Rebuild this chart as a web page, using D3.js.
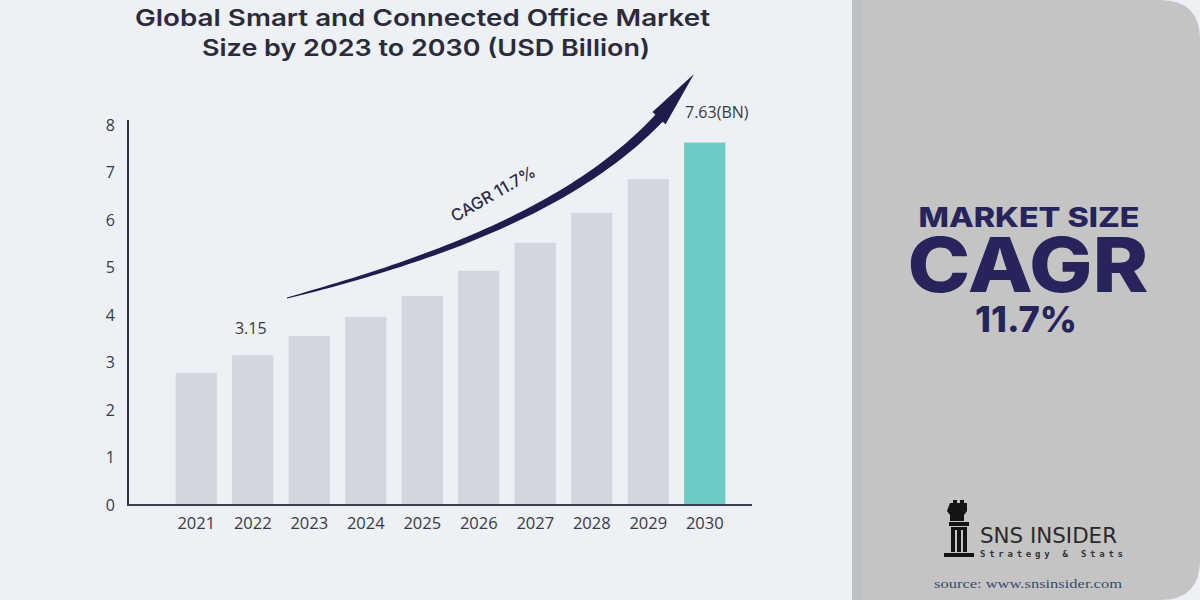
<!DOCTYPE html>
<html><head><meta charset="utf-8">
<script src="https://cdn.jsdelivr.net/npm/d3@7"></script>
<style>
html,body{margin:0;padding:0;background:#edf0f4;}
svg{display:block;}
</style></head>
<body>
<svg id="c" width="1200" height="600"></svg>
<script>
const years = ["2021","2022","2023","2024","2025","2026","2027","2028","2029","2030"];
const values = [2.78, 3.15, 3.56, 3.96, 4.40, 4.93, 5.52, 6.15, 6.86, 7.63];
const yTicks = [0,1,2,3,4,5,6,7,8];
const titleLines = ["Global Smart and Connected Office Market", "Size by 2023 to 2030 (USD Billion)"];
const cagrLabel = "CAGR 11.7%";
const sideLines = ["MARKET SIZE", "CAGR", "11.7%"];

const svg = d3.select("#c");
const W = 1200, H = 600;
const navy = "#26245a";

// background
svg.append("rect").attr("width",W).attr("height",H).attr("fill","#edf0f4");
// right panel
const px = 852, pr = 40;
svg.append("path")
  .attr("d", `M${px},0 H${W-pr} Q${W},0 ${W},${pr} V${H-pr} Q${W},${H} ${W-pr},${H} H${px} Z`)
  .attr("fill","#c4c4c4");
svg.append("rect").attr("x",px).attr("y",0).attr("width",10).attr("height",H).attr("fill","#bcbfc3");

// scales
const x = d3.scaleBand().domain(years).range([168,733]).paddingInner(0.27).paddingOuter(0.135);
const y = d3.scaleLinear().domain([0,8]).range([505,125]);

// title
const titlePos = [{cx:422.5, by:25.5, len:575}, {cx:426, by:55.5, len:448}];
svg.append("g").selectAll("text").data(titleLines).join("text")
  .attr("x",(d,i)=>titlePos[i].cx).attr("y",(d,i)=>titlePos[i].by)
  .attr("text-anchor","middle")
  .attr("font-family","Inter, 'Open Sans', sans-serif")
  .attr("font-weight",600).attr("font-size",23.5)
  .attr("fill","#2b2b3a")
  .attr("textLength",(d,i)=>titlePos[i].len).attr("lengthAdjust","spacingAndGlyphs")
  .text(d=>d);

// bars
svg.append("g").selectAll("rect").data(values).join("rect")
  .attr("x",(d,i)=>x(years[i]))
  .attr("y",d=>y(d))
  .attr("width",x.bandwidth())
  .attr("height",d=>y(0)-y(d))
  .attr("fill",(d,i)=> i===values.length-1 ? "#6ccbc3" : "#d3d6dc");

// axes
const yAxis = svg.append("g").attr("transform","translate(128,0)")
  .call(d3.axisLeft(y).tickValues(yTicks).tickSize(0).tickPadding(13).tickFormat(d3.format("d")));
yAxis.select(".domain").remove();
yAxis.selectAll("text").attr("font-family","'Open Sans', sans-serif").attr("font-size",16).attr("fill","#3a3a44");

const xAxis = svg.append("g").attr("transform","translate(0,505)")
  .call(d3.axisBottom(x).tickSize(0).tickPadding(12));
xAxis.select(".domain").remove();
xAxis.selectAll("text").attr("font-family","'Open Sans', sans-serif").attr("font-size",16.5).attr("fill","#3a3a44");

svg.append("line").attr("x1",128).attr("x2",128).attr("y1",120).attr("y2",506)
  .attr("stroke","#2e2e3e").attr("stroke-width",2);
svg.append("line").attr("x1",127).attr("x2",752).attr("y1",505).attr("y2",505)
  .attr("stroke","#3e3e50").attr("stroke-width",2);

// value labels
svg.append("text").attr("x",x(years[1])+x.bandwidth()/2-2).attr("y",y(values[1])-21)
  .attr("text-anchor","middle").attr("font-family","'Open Sans', sans-serif").attr("font-size",16)
  .attr("fill","#3a3a44").text(d3.format(".2f")(values[1]));
svg.append("text").attr("x",x(years[9])+x.bandwidth()/2+12).attr("y",y(values[9])-25)
  .attr("text-anchor","middle").attr("font-family","'Open Sans', sans-serif").attr("font-size",16)
  .attr("fill","#3a3a44").text(d3.format(".2f")(values[9])+"(BN)");

// CAGR arrow (tapered swoosh)
const P0=[287,298], P1=[450,255], P2=[615,195], P3=[694,74];
function bez(t){const u=1-t;return [
  u*u*u*P0[0]+3*u*u*t*P1[0]+3*u*t*t*P2[0]+t*t*t*P3[0],
  u*u*u*P0[1]+3*u*u*t*P1[1]+3*u*t*t*P2[1]+t*t*t*P3[1]];}
function der(t){const u=1-t;return [
  3*u*u*(P1[0]-P0[0])+6*u*t*(P2[0]-P1[0])+3*t*t*(P3[0]-P2[0]),
  3*u*u*(P1[1]-P0[1])+6*u*t*(P2[1]-P1[1])+3*t*t*(P3[1]-P2[1])];}
const tHead = 0.87, N = 60;
const left=[], right=[];
for(let k=0;k<=N;k++){
  const t = tHead*k/N;
  const p=bez(t), d=der(t), L=Math.hypot(d[0],d[1]);
  const nx=-d[1]/L, ny=d[0]/L;
  const w = 0.4 + 4.6*Math.pow(t/tHead,0.7);
  left.push([p[0]+nx*w,p[1]+ny*w]); right.push([p[0]-nx*w,p[1]-ny*w]);
}
const hb=bez(tHead), hd=der(tHead), hL=Math.hypot(hd[0],hd[1]);
const hnx=-hd[1]/hL, hny=hd[0]/hL, hw=9;
const pts = [...left, [hb[0]+hnx*hw,hb[1]+hny*hw], P3, [hb[0]-hnx*hw,hb[1]-hny*hw], ...right.reverse()];
svg.append("path").attr("d", d3.line()(pts)+"Z").attr("fill","#1f1c4e");

svg.append("text").attr("transform","translate(496,199) rotate(-30)")
  .attr("text-anchor","middle").attr("font-family","Inter, 'Open Sans', sans-serif")
  .attr("font-weight",500).attr("font-size",16.5).attr("fill","#2c2c48")
  .text(cagrLabel);

// side panel text (one text block, three lines)
const sideSpec = [{x:1029,y:227,fs:27,len:221},{x:1028,y:292,fs:76,len:241},{x:1026,y:332,fs:36,len:102}];
const side = svg.append("text").attr("font-family","Inter, 'Open Sans', sans-serif")
  .attr("font-weight",800).attr("fill",navy).attr("text-anchor","middle");
side.selectAll("tspan").data(sideLines).join("tspan")
  .attr("x",(d,i)=>sideSpec[i].x).attr("y",(d,i)=>sideSpec[i].y)
  .attr("font-size",(d,i)=>sideSpec[i].fs)
  .attr("textLength",(d,i)=>sideSpec[i].len).attr("lengthAdjust","spacingAndGlyphs")
  .text(d=>d);

// logo
const logo = svg.append("g");
logo.append("path").attr("fill","#141414").attr("d",
  "M950,503 h3 v-3 h4 v3 h3 v-3 h4 v3 h3 v8 l-3,4 v6 h-14 v-6 l-3,-4 Z" +
  "M949,522 h20 v4 h-20 Z" +
  "M951,527 h16 v25 h-16 Z" +
  "M944,553 h30 v4 h-30 Z");
logo.append("rect").attr("x",955).attr("y",530).attr("width",2).attr("height",22).attr("fill","#c4c4c4");
logo.append("rect").attr("x",961).attr("y",530).attr("width",2).attr("height",22).attr("fill","#c4c4c4");
logo.append("text").attr("x",980).attr("y",543).attr("font-family","'Liberation Sans Narrow','DejaVu Sans Condensed', sans-serif")
  .attr("font-size",22).attr("fill","#2a2a2a").attr("textLength",137).attr("lengthAdjust","spacingAndGlyphs").text("SNS INSIDER");
logo.append("text").attr("x",980).attr("y",557).attr("font-family","'DejaVu Sans Mono', monospace")
  .attr("font-size",9).attr("font-weight",700).attr("fill","#333").attr("textLength",143).attr("lengthAdjust","spacing").text("Strategy & Stats");
logo.append("text").attr("x",934).attr("y",588).attr("font-family","'Liberation Serif','DejaVu Serif', serif")
  .attr("font-size",13).attr("fill","#3c4a6a").attr("textLength",188).attr("lengthAdjust","spacingAndGlyphs").text("source: www.snsinsider.com");
</script>
</body></html>
